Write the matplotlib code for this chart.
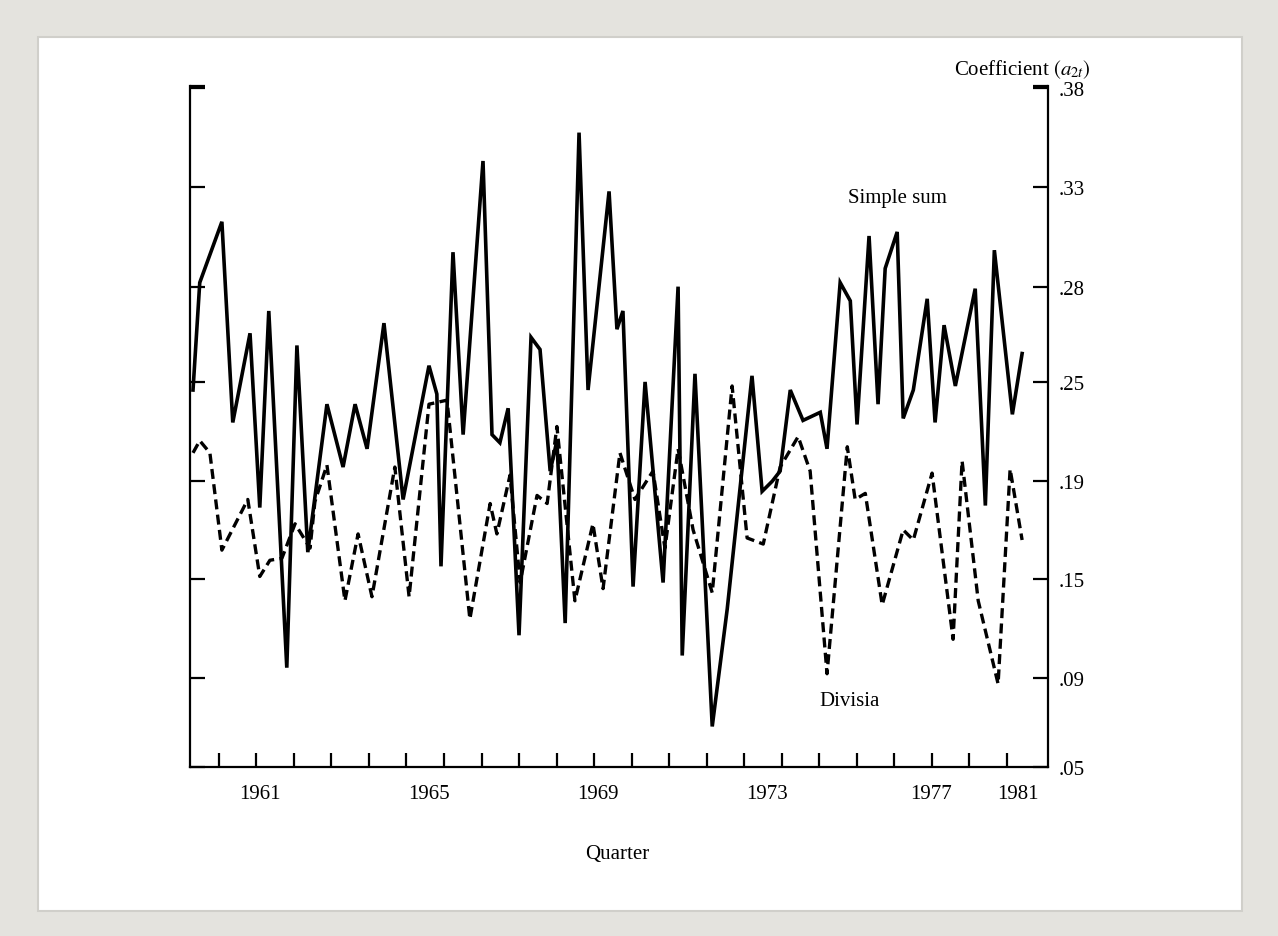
import matplotlib.pyplot as plt
from matplotlib.patches import Rectangle

# quarterly coefficients (x in years, y coefficient)
simple_x = [1959.31, 1959.49, 1960.08, 1960.37, 1960.83, 1961.09, 1961.33, 1961.81, 1962.08, 1962.37,
            1962.88, 1963.31, 1963.63, 1963.95, 1964.40, 1964.91, 1965.60, 1965.81, 1965.92, 1966.24,
            1966.51, 1967.04, 1967.28, 1967.49, 1967.71, 1968.00, 1968.32, 1968.56, 1968.83, 1969.01,
            1969.23, 1969.60, 1969.84, 1970.40, 1970.61, 1970.77, 1971.04, 1971.36, 1971.84, 1972.24,
            1972.35, 1972.69, 1973.15, 1973.55, 1974.21, 1974.48, 1974.75, 1974.96, 1975.23, 1975.57,
            1976.03, 1976.21, 1976.56, 1976.83, 1977.01, 1977.33, 1977.57, 1977.76, 1978.08, 1978.24,
            1978.51, 1978.88, 1979.09, 1979.33, 1979.63, 1980.16, 1980.43, 1980.67, 1981.15, 1981.41]
simple_y = [.236, .289, .319, .220, .264, .178, .275, .099, .258, .156,
            .229, .198, .229, .207, .269, .182, .248, .234, .149, .304,
            .214, .349, .214, .210, .227, .115, .262, .256, .196, .211,
            .121, .363, .236, .334, .266, .275, .139, .240, .141, .287,
            .105, .244, .070, .128, .243, .186, .191, .196, .236, .221,
            .225, .207, .289, .280, .219, .312, .229, .296, .314, .222,
            .236, .281, .220, .268, .238, .286, .179, .305, .224, .254]

divisia_x = [1959.31, 1959.49, 1959.76, 1960.08, 1960.77, 1961.09, 1961.36, 1961.68, 1962.03, 1962.43,
             1962.56, 1962.88, 1963.36, 1963.71, 1964.08, 1964.69, 1965.07, 1965.60, 1966.08, 1966.69,
             1967.23, 1967.41, 1967.76, 1968.03, 1968.48, 1968.75, 1969.01, 1969.49, 1969.97, 1970.24,
             1970.69, 1971.09, 1971.57, 1971.89, 1972.24, 1972.64, 1973.15, 1973.68, 1974.08, 1974.51,
             1974.96, 1975.44, 1975.76, 1976.21, 1976.75, 1976.96, 1977.23, 1977.68, 1978.24, 1978.51,
             1979.01, 1979.57, 1979.81, 1980.24, 1980.77, 1981.09, 1981.41]
divisia_y = [.205, .211, .205, .157, .182, .144, .152, .153, .170, .158,
             .181, .199, .132, .165, .134, .198, .134, .229, .231, .123,
             .180, .165, .194, .141, .184, .180, .218, .132, .170, .138,
             .205, .182, .196, .158, .207, .167, .136, .238, .163, .160,
             .198, .213, .196, .096, .208, .182, .185, .130, .167, .162,
             .195, .113, .201, .132, .091, .197, .162]

year_ticks = list(range(1960, 1982))
year_label_pos = [1961.1, 1965.6, 1970.1, 1974.6, 1978.97, 1981.3]
year_labels = ['1961', '1965', '1969', '1973', '1977', '1981']
y_tick_pos = [.385, .336, .287, .240, .191, .143, .094, .05]
y_labels = ['.38', '.33', '.28', '.25', '.19', '.15', '.09', '.05']

plt.rcParams['font.family'] = ['Liberation Serif', 'DejaVu Serif']
plt.rcParams['mathtext.fontset'] = 'stix'

fig = plt.figure(figsize=(12.78, 9.37), dpi=100, facecolor='#e4e3de')
fig.patches.append(Rectangle((38 / 1278, 25 / 937), 1204 / 1278, 874 / 937,
                             transform=fig.transFigure, facecolor='white',
                             edgecolor='#d0cfca', lw=1.5, zorder=-10))

ax = fig.add_axes([190 / 1278, 1 - 768 / 937, 858 / 1278, 681 / 937])
ax.set_facecolor('none')
ax.set_zorder(5)
ax.plot(simple_x, simple_y, color='black', lw=2.6, solid_joinstyle='miter')
ax.plot(divisia_x, divisia_y, color='black', lw=2.4, ls=(0, (3, 1.6)))

ax.set_xlim(1959.23, 1982.1)
ax.set_ylim(.05, .386)
ax.spines['top'].set_visible(False)
for s in ['left', 'right', 'bottom']:
    ax.spines[s].set_linewidth(1.6)

ax.set_xticks(year_ticks)
ax.set_xticklabels([])
ax.tick_params(axis='x', direction='in', length=10, width=1.6)
ax.set_xticks(year_label_pos, minor=True)
ax.set_xticklabels(year_labels, minor=True, fontsize=15)
ax.tick_params(axis='x', which='minor', length=0, pad=12)

ax.yaxis.tick_right()
ax.set_yticks(y_tick_pos + [.386])
ax.set_yticklabels(y_labels + [''], fontsize=15)
ax.tick_params(axis='y', direction='in', length=11, width=1.6, left=True, right=True, pad=8)

ax.text(0.97, 1.025, 'Coefficient $(a_{2t})$', transform=ax.transAxes,
        fontsize=15, ha='center', va='center')
ax.text(1978.1, .331, 'Simple sum', fontsize=15, ha='center', va='center')
ax.text(1976.8, .083, 'Divisia', fontsize=15, ha='center', va='center')
fig.text(617 / 1278, 1 - 855 / 937, 'Quarter', fontsize=15, ha='center', va='center')

fig.savefig('out.png', dpi=100, facecolor=fig.get_facecolor())
